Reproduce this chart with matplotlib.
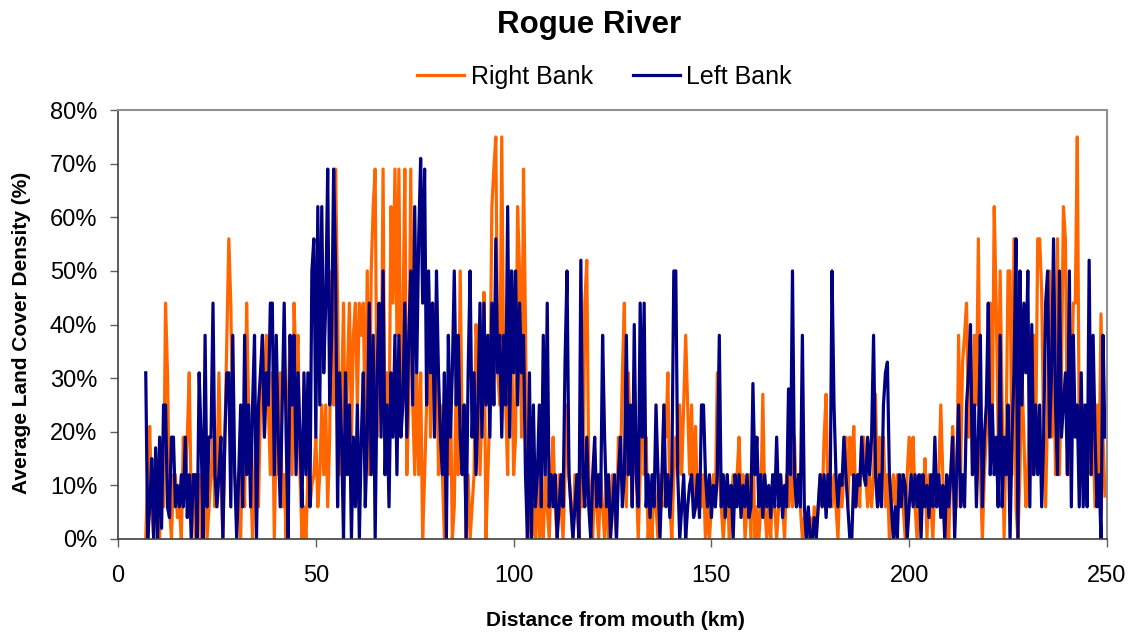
import numpy as np
import matplotlib
matplotlib.use("Agg")
import matplotlib.pyplot as plt
from matplotlib.ticker import FuncFormatter

plt.rcParams['font.family'] = ['Liberation Sans', 'DejaVu Sans']

title = "Rogue River"
series_names = ["Right Bank", "Left Bank"]
x_label = "Distance from mouth (km)"
y_label = "Average Land Cover Density (%)"
x_ticks = [0, 50, 100, 150, 200, 250]
y_ticks = [0, 10, 20, 30, 40, 50, 60, 70, 80]

start_km = 7.0
step_km = 0.5

# Right bank density (%), one value every 0.5 km from 7 km
right_bank = [
    0, 12, 21, 6, 0, 12, 4, 0, 12, 6,
    44, 31, 6, 0, 12, 12, 4, 6, 0, 19,
    12, 19, 31, 6, 12, 0, 6, 12, 0, 6,
    12, 0, 6, 12, 19, 6, 12, 31, 12, 0,
    19, 38, 56, 44, 19, 12, 6, 12, 0, 19,
    6, 44, 25, 12, 0, 12, 21, 6, 25, 38,
    19, 38, 25, 12, 31, 0, 21, 12, 31, 6,
    12, 0, 25, 38, 12, 44, 31, 38, 12, 0,
    6, 0, 12, 6, 10, 12, 19, 6, 12, 25,
    12, 25, 6, 19, 50, 25, 69, 44, 12, 25,
    44, 12, 31, 44, 19, 38, 44, 25, 44, 38,
    44, 19, 50, 12, 50, 62, 69, 19, 38, 25,
    69, 12, 31, 19, 62, 44, 69, 38, 69, 25,
    38, 69, 12, 25, 69, 25, 12, 31, 12, 31,
    0, 12, 25, 44, 19, 44, 31, 44, 12, 25,
    12, 0, 19, 12, 31, 0, 6, 31, 12, 50,
    19, 25, 0, 12, 0, 6, 12, 40, 31, 12,
    25, 46, 0, 12, 25, 62, 69, 75, 31, 25,
    75, 31, 25, 12, 50, 38, 12, 19, 62, 50,
    19, 69, 40, 0, 12, 0, 6, 0, 12, 0,
    6, 0, 12, 6, 0, 12, 19, 6, 0, 12,
    6, 0, 12, 25, 12, 6, 0, 12, 6, 0,
    12, 6, 44, 52, 12, 6, 0, 12, 6, 0,
    12, 6, 0, 12, 0, 6, 12, 6, 0, 19,
    12, 31, 44, 6, 31, 19, 6, 31, 12, 0,
    12, 38, 12, 19, 0, 6, 0, 12, 6, 0,
    12, 6, 25, 19, 31, 6, 0, 12, 19, 12,
    25, 12, 25, 38, 25, 12, 25, 6, 21, 6,
    12, 6, 12, 0, 6, 0, 6, 12, 6, 31,
    12, 6, 0, 6, 12, 0, 6, 12, 6, 12,
    19, 6, 12, 0, 6, 12, 0, 19, 0, 6,
    0, 6, 27, 6, 0, 6, 0, 12, 6, 0,
    6, 12, 6, 0, 12, 6, 12, 6, 19, 6,
    12, 6, 0, 4, 0, 0, 4, 0, 6, 0,
    6, 12, 6, 19, 27, 6, 12, 6, 12, 6,
    0, 12, 6, 12, 19, 6, 19, 12, 21, 6,
    12, 6, 19, 19, 12, 6, 12, 6, 12, 27,
    6, 19, 12, 19, 6, 12, 0, 6, 12, 6,
    12, 6, 12, 6, 0, 12, 19, 12, 19, 6,
    0, 6, 12, 6, 15, 0, 12, 6, 0, 12,
    6, 12, 25, 12, 0, 6, 0, 12, 21, 12,
    6, 38, 12, 33, 38, 44, 19, 31, 12, 38,
    25, 56, 12, 0, 12, 19, 25, 44, 19, 62,
    44, 19, 50, 25, 0, 19, 50, 50, 12, 56,
    6, 0, 12, 31, 19, 6, 12, 25, 12, 38,
    19, 56, 56, 46, 19, 6, 25, 50, 19, 38,
    12, 56, 12, 31, 62, 56, 19, 12, 25, 44,
    44, 75, 19, 12, 25, 12, 19, 25, 12, 19,
    6, 25, 12, 42, 19, 8,
]

# Left bank density (%), one value every 0.5 km from 7 km
left_bank = [
    31, 0, 6, 15, 0, 17, 0, 19, 2, 25,
    25, 6, 4, 19, 19, 6, 10, 6, 12, 6,
    19, 4, 12, 0, 12, 12, 0, 31, 19, 0,
    38, 6, 19, 19, 44, 12, 6, 12, 19, 0,
    19, 31, 31, 6, 38, 12, 0, 12, 25, 6,
    38, 12, 25, 6, 25, 38, 0, 25, 31, 38,
    19, 31, 25, 44, 44, 12, 38, 19, 6, 25,
    44, 19, 0, 38, 25, 38, 12, 31, 19, 6,
    31, 12, 31, 6, 50, 56, 19, 62, 25, 62,
    31, 44, 69, 25, 38, 69, 50, 6, 31, 19,
    0, 31, 12, 25, 0, 19, 6, 25, 0, 19,
    31, 6, 19, 44, 12, 38, 0, 31, 44, 19,
    50, 12, 25, 6, 31, 19, 38, 12, 38, 19,
    25, 44, 19, 38, 50, 25, 62, 31, 56, 71,
    44, 69, 25, 50, 31, 44, 19, 50, 31, 19,
    12, 31, 0, 38, 19, 31, 50, 25, 38, 19,
    12, 25, 0, 31, 50, 19, 31, 12, 25, 44,
    19, 44, 25, 38, 19, 44, 25, 56, 31, 38,
    19, 38, 25, 62, 19, 50, 31, 50, 25, 44,
    31, 38, 12, 0, 31, 0, 25, 6, 12, 25,
    6, 38, 12, 44, 6, 12, 6, 12, 0, 6,
    12, 6, 33, 50, 12, 6, 0, 6, 12, 0,
    52, 12, 6, 19, 6, 0, 12, 19, 6, 12,
    6, 38, 19, 6, 12, 0, 6, 12, 0, 12,
    19, 6, 12, 38, 12, 25, 6, 40, 12, 6,
    44, 19, 44, 6, 12, 4, 12, 6, 25, 12,
    0, 12, 25, 6, 12, 4, 12, 50, 50, 12,
    0, 6, 12, 0, 6, 10, 12, 4, 6, 12,
    4, 25, 25, 12, 6, 12, 4, 10, 6, 12,
    38, 6, 12, 4, 12, 6, 10, 0, 12, 6,
    12, 4, 10, 6, 12, 4, 6, 29, 12, 19,
    6, 12, 4, 12, 6, 10, 4, 12, 6, 19,
    6, 12, 4, 10, 6, 28, 12, 50, 12, 6,
    12, 6, 38, 6, 0, 6, 0, 0, 4, 0,
    6, 12, 6, 12, 4, 12, 6, 50, 25, 12,
    6, 12, 10, 19, 12, 6, 0, 0, 12, 6,
    12, 10, 19, 12, 10, 19, 12, 19, 38, 12,
    6, 12, 6, 25, 31, 33, 12, 6, 0, 6,
    0, 12, 6, 12, 10, 0, 6, 12, 6, 12,
    6, 12, 0, 12, 6, 10, 4, 12, 6, 19,
    6, 12, 4, 10, 0, 12, 6, 12, 19, 0,
    12, 25, 6, 12, 6, 25, 31, 40, 12, 25,
    6, 19, 38, 6, 19, 25, 44, 12, 25, 12,
    19, 6, 38, 6, 19, 12, 25, 0, 19, 31,
    56, 0, 50, 25, 44, 31, 50, 6, 40, 12,
    25, 12, 25, 6, 19, 44, 50, 19, 31, 56,
    25, 12, 50, 19, 25, 31, 12, 50, 6, 38,
    19, 25, 6, 31, 6, 25, 6, 52, 12, 38,
    19, 6, 12, 0, 38, 19,
]

n = min(len(right_bank), len(left_bank))
right = np.array(right_bank[:n]) / 100.0
left = np.array(left_bank[:n]) / 100.0
dist = start_km + step_km * np.arange(n)

fig = plt.figure(figsize=(11.33, 6.33), dpi=100)
ax = fig.add_axes([0.1042, 0.1485, 0.8728, 0.6775])

orange = '#FF6600'
navy = '#000080'
ax.plot(dist, right, color=orange, lw=2.3, label=series_names[0])
ax.plot(dist, left, color=navy, lw=2.3, label=series_names[1])

ax.set_xlim(0, 250)
ax.set_ylim(0, 0.8)
ax.set_xticks(x_ticks)
ax.set_yticks([v / 100 for v in y_ticks])
ax.yaxis.set_major_formatter(FuncFormatter(lambda v, p: f"{v*100:.0f}%"))
ax.tick_params(axis='both', direction='out', length=6, width=1, labelsize=17,
               color='#606060')
ax.tick_params(axis='x', pad=13)
ax.tick_params(axis='y', pad=9)

for s in ['top', 'right']:
    ax.spines[s].set_color('#909090')
    ax.spines[s].set_linewidth(1.5)
for s in ['left', 'bottom']:
    ax.spines[s].set_color('#404040')
    ax.spines[s].set_linewidth(1.2)

ax.set_xlabel(x_label, fontsize=15, fontweight='bold')
ax.set_ylabel(y_label, fontsize=15, fontweight='bold')
ax.xaxis.set_label_coords(615 / 1133 - 0.1042 / 1, 0, transform=fig.transFigure)
ax.xaxis.label.set_position((615 / 1133, 1 - 621 / 633))
ax.xaxis.label.set_verticalalignment('center')
ax.yaxis.set_label_coords(22 / 1133, 1 - 333 / 633, transform=fig.transFigure)
ax.yaxis.label.set_verticalalignment('center')

fig.text(589 / 1133, 1 - 25 / 633, title, ha='center', va='center', fontsize=22.5,
         fontweight='bold')
fig.legend(loc='center', bbox_to_anchor=(604.5 / 1133, 1 - 77 / 633), ncol=2,
           frameon=False, fontsize=18, handlelength=1.9, handletextpad=0.25,
           columnspacing=1.6)

fig.savefig('out.png', dpi=100)
